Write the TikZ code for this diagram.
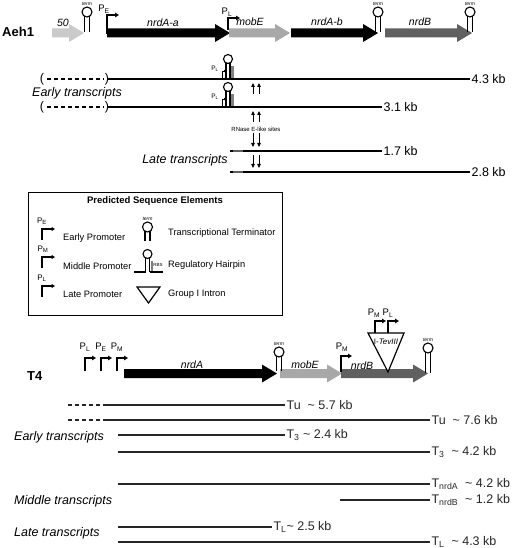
\documentclass[tikz,border=0pt]{standalone}
\usepackage{fontspec}
\setmainfont{Liberation Sans}
\usepackage{tikz}
\usetikzlibrary{arrows.meta}
\definecolor{genlight}{HTML}{CACACA}
\definecolor{genmid}{HTML}{A8A8A8}
\definecolor{gendark}{HTML}{606060}
\tikzset{
  hdr/.style={font=\bfseries\fontsize{13}{15}\selectfont,inner sep=0pt},
  glbl/.style={font=\itshape\fontsize{10.5}{12}\selectfont,inner sep=0pt,anchor=base},
  lbl/.style={font=\fontsize{12.5}{14}\selectfont,inner sep=1pt},
  tlbl/.style={font=\itshape\fontsize{12.5}{14}\selectfont,inner sep=0pt},
  plbl/.style={font=\fontsize{9.5}{10}\selectfont,inner sep=0pt},
  leg/.style={font=\fontsize{9.3}{11}\selectfont,inner sep=0pt,anchor=west},
  tiny/.style={font=\fontsize{5}{5}\selectfont,inner sep=0pt},
  tline/.style={line width=1.2pt},
  prom/.style={line width=1.6pt,-{Triangle[length=4pt,width=4.5pt]}},
  lprom/.style={line width=1.2pt,-{Triangle[length=3.5pt,width=4pt]}},
  sprom/.style={line width=0.7pt,-{Triangle[length=2pt,width=2.5pt]}},
  site/.style={line width=0.8pt,-{Triangle[length=4pt,width=3.5pt]}},
  hp/.style={line width=1.1pt}
}
% 基因箭头: x1, x2, y, 颜色
\newcommand{\genarrow}[4]{\fill[#4] (#1,#3-4.5) -- (#2-15,#3-4.5) -- (#2-15,#3-9) -- (#2,#3)
  -- (#2-15,#3+9) -- (#2-15,#3+4.5) -- (#1,#3+4.5) -- cycle;}
% 终止子: x, 茎底 y, 环心 y, 名字
\newcommand{\termin}[4]{\draw[hp] (#1-2.5,#2) -- (#1-2.5,#3+4.3) (#1+2.5,#2) -- (#1+2.5,#3+4.3);
  \draw[hp] (#1,#3) circle[radius=5pt];
  \node[tiny,font=\itshape\fontsize{5}{5}\selectfont] (#4) at (#1,#3-8.5) {term};}
% 调控发夹: x, 底 y, 环心 y
\newcommand{\rhair}[3]{\draw[hp] (#1-2,#2) -- (#1-2,#3+4) (#1+2,#2) -- (#1+2,#3+4);
  \draw[hp] (#1,#3) circle[radius=4.5pt];
  \fill[gray] (#1+3.4,#3+7) rectangle (#1+5.6,#2-1);}

\begin{document}
\begin{tikzpicture}[x=1pt,y=-1pt]
\useasboundingbox (0,0) rectangle (512,548);

% ---- Aeh1 ----
\node[hdr,anchor=west] (aeh) at (2,32) {Aeh1};
\genarrow{52}{84}{33}{genlight}
\genarrow{107}{230}{33}{black}
\genarrow{229}{290}{33}{genmid}
\genarrow{291}{378}{33}{black}
\genarrow{385}{472}{33}{gendark}
\node[glbl] (g50) at (63,27) {50};
\node[glbl] (nrdaa) at (163,27) {nrdA-a};
\node[glbl] (mobe1) at (250,26) {mobE};
\node[glbl] (nrdab) at (327,26) {nrdA-b};
\node[glbl] (nrdb1) at (420,26) {nrdB};
\termin{87}{32}{12}{tm1}
\termin{378}{32}{12}{tm2}
\termin{470}{32}{12}{tm3}
\draw[prom] (107,34) -- (107,15) -- (119,15);
\node[plbl] (pe1) at (104,9) {P\textsubscript{E}};
\draw[prom] (228,30) -- (228,18) -- (240,18);
\node[plbl] (pl1) at (227,12) {P\textsubscript{L}};

% 早期转录本
\node[lbl] (lpa) at (42,79) {(};
\draw[tline,dash pattern=on 4pt off 3pt] (47,79) -- (104,79);
\node[lbl] (rpa) at (107,79) {)};
\draw[tline] (108,79) -- (470,79) node[lbl,right] (kb43) {4.3 kb};
\node[lbl] (lpb) at (42,107) {(};
\draw[tline,dash pattern=on 4pt off 3pt] (47,107) -- (104,107);
\node[lbl] (rpb) at (107,107) {)};
\draw[tline] (108,107) -- (382,107) node[lbl,right] (kb31) {3.1 kb};
\rhair{228}{79}{59}
\rhair{228}{107}{87}
\draw[sprom] (222,79) -- (222,71) -- (226,71);
\draw[sprom] (222,107) -- (222,99) -- (226,99);
\node[tiny,font=\fontsize{6.5}{7}\selectfont] (pla) at (215,69) {P\textsubscript{L}};
\node[tiny,font=\fontsize{6.5}{7}\selectfont] (plb) at (215,97) {P\textsubscript{L}};
\node[tlbl] (early1) at (77,93) {Early transcripts};

% RNase E 位点
\foreach \x in {253,259}{
  \draw[site] (\x,94) -- (\x,83);
  \draw[site] (\x,122) -- (\x,111);
  \draw[site] (\x,133) -- (\x,147);
  \draw[site] (\x,155) -- (\x,168);
}
\node[tiny,font=\fontsize{6}{7}\selectfont] (rnase) at (256,129) {RNase E-like sites};

% 晚期转录本
\draw[tline] (230,151) -- (382,151) node[lbl,right] (kb17) {1.7 kb};
\draw[line width=2.2pt,gendark] (233,151) -- (243,151);
\draw[tline] (230,172) -- (470,172) node[lbl,right] (kb28) {2.8 kb};
\draw[line width=2.2pt,gendark] (233,172) -- (243,172);
\node[tlbl] (late1) at (185,160) {Late transcripts};

% ---- 图例 ----
\draw[line width=0.9pt] (28,192) rectangle (282,315);
\node[font=\bfseries\fontsize{9.5}{11}\selectfont,inner sep=0pt] (ttl) at (155,201) {Predicted Sequence Elements};
\draw[lprom] (42,240) -- (42,229) -- (55,229);
\node[plbl,font=\fontsize{8}{9}\selectfont] (lpe) at (42,221) {P\textsubscript{E}};
\node[leg] (le) at (63,238) {Early Promoter};
\draw[lprom] (42,268) -- (42,257) -- (55,257);
\node[plbl,font=\fontsize{8}{9}\selectfont] (lpm) at (43,249) {P\textsubscript{M}};
\node[leg] (lm) at (63,266) {Middle Promoter};
\draw[lprom] (42,297) -- (42,286) -- (55,286);
\node[plbl,font=\fontsize{8}{9}\selectfont] (lpl) at (42,278) {P\textsubscript{L}};
\node[leg] (ll) at (63,294) {Late Promoter};
\termin{147.5}{241}{227}{ltm}
\node[leg] (lt) at (168,233) {Transcriptional Terminator};
\draw[hp] (134,272) -- (145.5,272) (149.5,272) -- (163,272);
\rhair{147.5}{272}{254}
\node[tiny,font=\fontsize{4.5}{5}\selectfont] (rbs) at (158,265) {RBS};
\node[leg] (lr) at (168,265) {Regulatory Hairpin};
\draw[line width=1.2pt] (137,287) -- (160,287) -- (148.5,303) -- cycle;
\node[leg] (li) at (168,294) {Group I Intron};

% ---- T4 ----
\node[hdr,anchor=west] (tf) at (27,376) {T4};
\genarrow{124}{277}{373.5}{black}
\genarrow{280}{342}{373.5}{genmid}
\genarrow{341}{428}{373.5}{gendark}
\node[glbl] (nrda) at (192,368) {nrdA};
\node[glbl] (mobe2) at (305,368) {mobE};
\node[glbl] (nrdb2) at (362,369) {nrdB};
\termin{279}{371}{352}{tm4}
\termin{428}{373}{348}{tm5}
\foreach \x/\s in {85/L,101/E,117/M}{
  \draw[prom] (\x,371) -- (\x,358) -- (\x+11,358);
  \node[plbl] (p\s) at (\x,347) {P\textsubscript{\s}};
}
\draw[prom] (341,372) -- (341,356) -- (352,356);
\node[plbl] (pm2) at (342,347) {P\textsubscript{M}};
\draw[line width=1.2pt,fill=white] (368,333) -- (404,333) -- (388,372) -- cycle;
\node[font=\fontsize{8}{9}\selectfont,inner sep=0pt] (tev) at (386,342) {I-\textit{TevIII}};
\draw[prom] (375,333) -- (375,321) -- (386,321);
\draw[prom] (388,333) -- (388,321) -- (399,321);
\node[plbl] (pm3) at (374,313) {P\textsubscript{M}};
\node[plbl] (pl3) at (388,313) {P\textsubscript{L}};

% T4 转录本
\begin{scope}[black!85]
\draw[tline,dash pattern=on 4pt off 3pt] (68,405) -- (103,405);
\draw[tline] (103,405) -- (285,405) node[lbl,right] (tu57) {Tu\ \ \textasciitilde\ 5.7 kb};
\draw[tline,dash pattern=on 4pt off 3pt] (68,420) -- (103,420);
\draw[tline] (103,420) -- (430,420) node[lbl,right] (tu76) {Tu\ \ \textasciitilde\ 7.6 kb};
\draw[tline] (118,435) -- (285,435) node[lbl,right] (t324) {T\textsubscript{3} \textasciitilde\ 2.4 kb};
\draw[tline] (118,452) -- (430,452) node[lbl,right] (t342) {T\textsubscript{3}\ \ \textasciitilde\ 4.2 kb};
\draw[tline] (118,484) -- (430,484) node[lbl,right] (tna) {T\textsubscript{nrdA}\ \ \textasciitilde\ 4.2 kb};
\draw[tline] (340,500) -- (430,500) node[lbl,right] (tnb) {T\textsubscript{nrdB}\ \ \textasciitilde\ 1.2 kb};
\draw[tline] (118,527) -- (272,527) node[lbl,right] (tl25) {T\textsubscript{L}\textasciitilde\ 2.5 kb};
\draw[tline] (118,542) -- (430,542) node[lbl,right] (tl43) {T\textsubscript{L}\ \ \textasciitilde\ 4.3 kb};
\end{scope}
\node[tlbl,anchor=west] (early2) at (14,437) {Early transcripts};
\node[tlbl,anchor=west] (mid2) at (14,501) {Middle transcripts};
\node[tlbl,anchor=west] (late2) at (14,533) {Late transcripts};
\end{tikzpicture}
\end{document}
